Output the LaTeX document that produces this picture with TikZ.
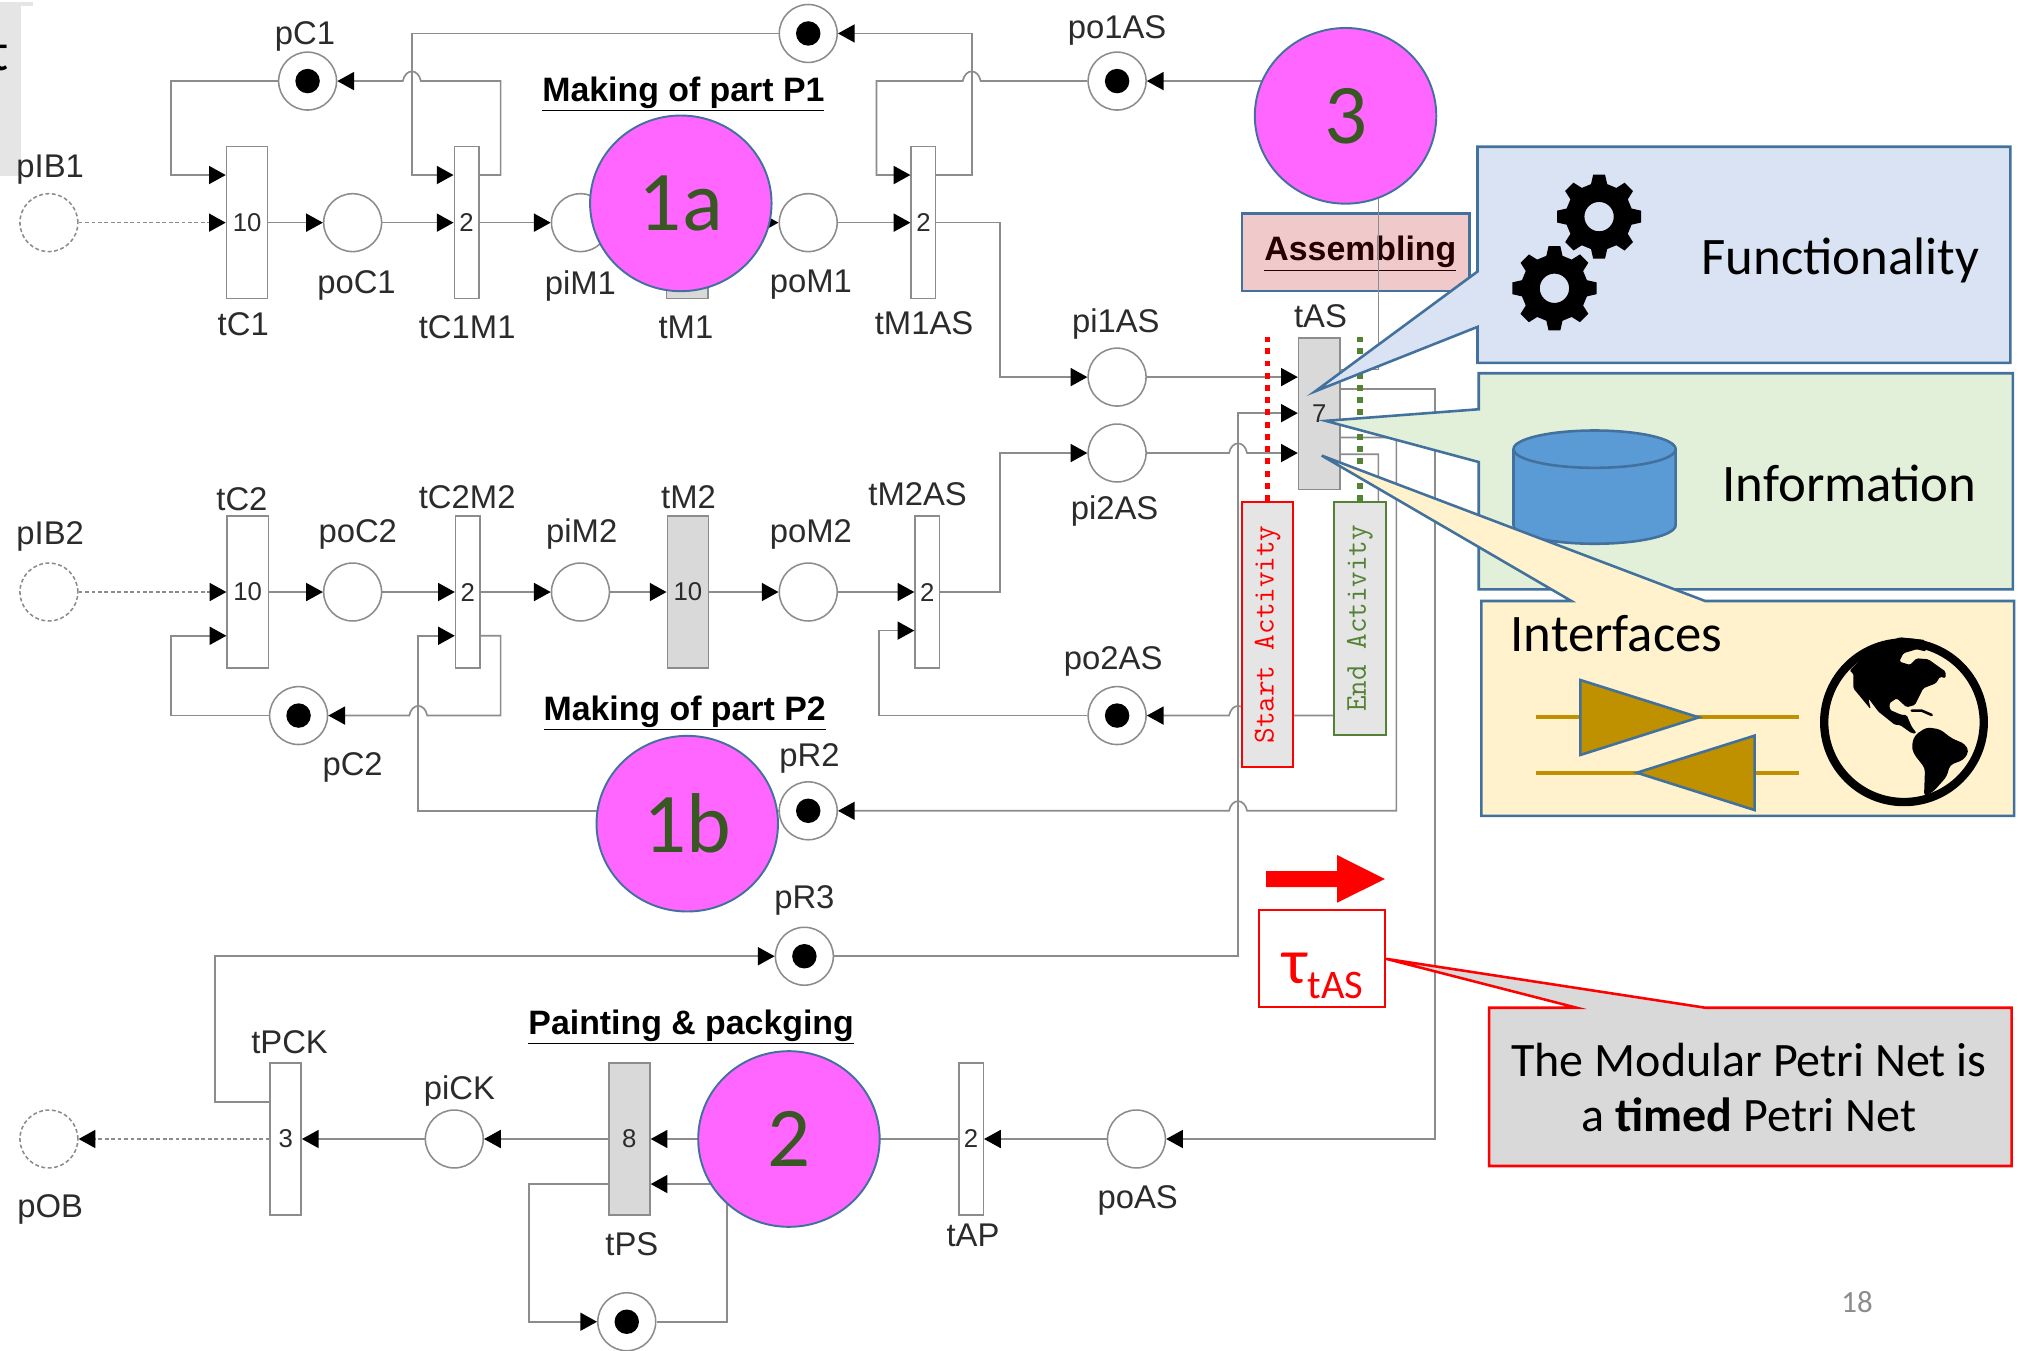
\documentclass[tikz,border=0pt]{standalone}
\usepackage{fontspec}
\setmainfont{Liberation Sans}
\newfontfamily\calibrif{Carlito}
\usetikzlibrary{arrows.meta,calc,shapes.geometric}
\newcommand\fsz[1]{\fontsize{#1}{#1}\selectfont}
\newcommand\hopleft[2]{-- ({#1+7},#2) .. controls ({#1+5},{#2-10}) and ({#1-5},{#2-10}) .. ({#1-7},#2)}
\newcommand\hopright[2]{-- ({#1-7},#2) .. controls ({#1-5},{#2-10}) and ({#1+5},{#2-10}) .. ({#1+7},#2)}
\definecolor{netgray}{HTML}{8C8C8C}
\definecolor{labelc}{HTML}{2B2B2B}
\definecolor{edgeblue}{HTML}{41719C}
\definecolor{pinkf}{HTML}{FF66FF}
\definecolor{numgreen}{HTML}{385723}
\definecolor{funcf}{HTML}{DAE3F3}
\definecolor{infof}{HTML}{E2F0D9}
\definecolor{intf}{HTML}{FFF2CC}
\definecolor{gold}{HTML}{BF9000}
\definecolor{acgreen}{HTML}{548235}
\definecolor{assemf}{HTML}{F0C9CB}
\definecolor{cylf}{HTML}{5B9BD5}
\tikzset{
  x=1pt,y=-1pt,
  place/.style={circle,draw=netgray,line width=1.2pt,fill=white,minimum size=45pt,inner sep=0pt},
  ghostplace/.style={place,densely dashed},
  tokened/.style={path picture={\fill[black] (path picture bounding box.center) circle (9.5pt);}},
  trans/.style={rectangle,draw=netgray,line width=1.2pt,fill=white,minimum height=118pt,inner sep=0pt,text=labelc,font=\fsz{20}},
  graytrans/.style={trans,fill=black!15},
  lab/.style={text=labelc,font=\fsz{25.5},inner sep=0pt},
  plab/.style={lab,yshift=-2pt},
  heading/.style={text=black,font=\fsz{26.3}\bfseries,inner sep=0pt,yshift=-2pt},
  netline/.style={draw=netgray,line width=1.3pt},
  netarrow/.style={netline,-{Triangle[length=13pt,width=14pt,black]}},
  dashnet/.style={netarrow,densely dashed},
  pinkball/.style={ellipse,draw=edgeblue,line width=1.5pt,fill=pinkf,minimum width=141pt,minimum height=136.5pt,inner sep=0pt,text=numgreen,font=\calibrif\fsz{66}},
  callout/.style={draw=edgeblue,line width=2pt,line join=miter},
  ctext/.style={text=black,font=\calibrif\fsz{41},inner sep=0pt},
  activity/.style={rotate=90,line width=1.5pt,fill=black!10,minimum height=40pt,inner sep=0pt,font=\ttfamily\fsz{23.5}},
  dotline/.style={line width=4pt,dash pattern=on 4.6pt off 4.9pt},
  gearshape/.style={fill=black,even odd rule}
}
\newcommand\gearat[2]{%
  \fill[gearshape,shift={(#1,#2)}] (-14:26)
    foreach \a in {0,45,...,315}{ -- ({\a-14}:26) -- ({\a-8}:33) -- ({\a+8}:33) -- ({\a+14}:26)} -- cycle
    (0,0) circle (11.4);}
\begin{document}
\begin{tikzpicture}
\useasboundingbox (0,0) rectangle (1568,1049);
\fill[white] (0,0) rectangle (1568,1049);
% slide remainder, top left
\fill[black!10] (0,1.5) rectangle (26,4.5);
\fill[black!10] (0,4.5) rectangle (16.5,137);
\node[anchor=base east,inner sep=0pt,font=\calibrif\fsz{42},text=black] (cutT) at (7,55) {t};
% assembling box under the net
\node[rectangle,draw=edgeblue,line width=2pt,fill=assemf,minimum width=177pt,minimum height=60pt] (asmBox) at (1053.5,196) {};
% places
\node[ghostplace] (pIB1) at (38,173) {};
\node[ghostplace] (pIB2) at (38,460) {};
\node[ghostplace] (pOB) at (38,885) {};
\node[place,tokened] (pC1) at (239,63) {};
\node[place,tokened] (pTop) at (628,26) {};
\node[place,tokened] (po1AS) at (868,63) {};
\node[place] (poC1) at (274,173) {};
\node[place] (piM1) at (451,173) {};
\node[place] (poM1) at (628,173) {};
\node[place] (pi1AS) at (868,293) {};
\node[place] (pi2AS) at (868,352) {};
\node[place] (poC2) at (274,460) {};
\node[place] (piM2) at (451,460) {};
\node[place] (poM2) at (628,460) {};
\node[place,tokened] (po2AS) at (868,556) {};
\node[place,tokened] (pC2) at (232,556) {};
\node[place,tokened] (pR2) at (628,630) {};
\node[place,tokened] (pR3) at (625,743) {};
\node[place] (piCK) at (353,885) {};
\node[place] (poAS) at (883,885) {};
\node[place,tokened] (pLoop) at (487,1027) {};
% transitions
\node[trans,minimum width=32pt] (tC1) at (192,173) {10};
\node[trans,minimum width=19pt] (tC1M1) at (362.5,173) {2};
\node[graytrans,minimum width=32pt] (tM1) at (534,173) {};
\node[trans,minimum width=19pt] (tM1AS) at (717.5,173) {2};
\node[trans,minimum width=32pt] (tC2) at (192.5,460) {10};
\node[trans,minimum width=19pt] (tC2M2) at (363.5,460) {2};
\node[graytrans,minimum width=32pt] (tM2) at (534.5,460) {10};
\node[trans,minimum width=19pt] (tM2AS) at (720.5,460) {2};
\node[graytrans,minimum width=32pt] (tAS) at (1025,321.5) {7};
\node[trans,minimum width=24pt] (tPCK) at (222,885) {3};
\node[graytrans,minimum width=32pt] (tPS) at (489,885) {8};
\node[trans,minimum width=19pt] (tAP) at (754.5,885) {2};
% labels
\node[plab] (lpC1) at (237,26) {pC1};
\node[plab] (lpIB1) at (39,130) {pIB1};
\node[plab] (lpoC1) at (277,220) {poC1};
\node[plab] (lpiM1) at (451,220) {piM1};
\node[plab] (lpoM1) at (630,219) {poM1};
\node[lab] (ltC1) at (189,252) {tC1};
\node[lab] (ltC1M1) at (363,254) {tC1M1};
\node[lab] (ltM1) at (533,254) {tM1};
\node[lab] (ltM1AS) at (718,251) {tM1AS};
\node[plab] (lpo1AS) at (868,22) {po1AS};
\node[plab] (lpi1AS) at (867,250) {pi1AS};
\node[plab] (lpi2AS) at (866,395) {pi2AS};
\node[lab] (ltAS) at (1026,246) {tAS};
\node[lab] (ltC2) at (188,388) {tC2};
\node[plab] (lpoC2) at (278,413) {poC2};
\node[lab] (ltC2M2) at (363,386) {tC2M2};
\node[plab] (lpiM2) at (452,413) {piM2};
\node[lab] (ltM2) at (535,386) {tM2};
\node[plab] (lpoM2) at (630,413) {poM2};
\node[lab] (ltM2AS) at (713,384) {tM2AS};
\node[plab] (lpIB2) at (39,415) {pIB2};
\node[plab] (lpo2AS) at (865,512) {po2AS};
\node[plab] (lpC2) at (274,594) {pC2};
\node[plab] (lpR2) at (629,587) {pR2};
\node[plab] (lpR3) at (625,698) {pR3};
\node[lab] (ltPCK) at (225,810) {tPCK};
\node[plab] (lpiCK) at (357,846) {piCK};
\node[plab] (lpOB) at (39,938) {pOB};
\node[lab] (ltPS) at (491,967) {tPS};
\node[lab] (ltAP) at (756,960) {tAP};
\node[plab] (lpoAS) at (884,931) {poAS};
\node[heading] (hP1) at (531,71) {\underline{Making of part P1}};
\node[heading] (hP2) at (532,552) {\underline{Making of part P2}};
\node[heading] (hPP) at (537,796) {\underline{Painting \& packging}};
\node[heading,text=black!85!red] (hAS) at (1057,195) {\underline{Assembling}};
% net, row 1
\draw[dashnet] (pIB1.east) -- (tC1.west);
\draw[netarrow] (tC1.east) -- (poC1.west);
\draw[netarrow] (poC1.east) -- (tC1M1.west);
\draw[netarrow] (tC1M1.east) -- (piM1.west);
\draw[netarrow] (piM1.east) -- (tM1.west);
\draw[netarrow] (tM1.east) -- (poM1.west);
\draw[netarrow] (poM1.east) -- (tM1AS.west);
\draw[netarrow] (pC1.west) -- (133,63) -- (133,136) -- (tC1.west |- 0,136);
\draw[netarrow] (tC1M1.east |- 0,136) -- (389,136) -- (389,63) \hopleft{320}{63} -- (pC1.east);
\draw[netarrow] (pTop.west) -- (320,26) -- (320,136) -- (tC1M1.west |- 0,136);
\draw[netarrow] (po1AS.west) \hopleft{755}{63} -- (681,63) -- (681,136) -- (tM1AS.west |- 0,136);
\draw[netarrow] (tM1AS.east |- 0,136) -- (755,136) -- (755,26) -- (pTop.east);
\draw[netarrow] (tM1AS.east) -- (777,173) -- (777,293) -- (pi1AS.west);
% net, assembling
\draw[netarrow] (pi1AS.east) -- (tAS.west |- pi1AS);
\draw[netarrow] (pi2AS.east) \hopright{962}{352} -- (tAS.west |- pi2AS);
\draw[netarrow] (pR3.east) -- (962,743) -- (962,321) -- (tAS.west |- 0,321);
\draw[netarrow] (tAS.east |- 0,287) -- (1071,287) -- (1071,63) -- (po1AS.east);
\draw[netarrow] (tAS.east |- 0,302) -- (1115,302) -- (1115,885) -- (poAS.east);
\draw[netarrow] (tAS.east |- 0,340) -- (1085,340) -- (1085,630) \hopleft{962}{630} -- (pR2.east);
\draw[netarrow] (tAS.east |- 0,353) -- (1071,353) -- (1071,556) \hopleft{962}{556} -- (po2AS.east);
% net, row 2
\draw[dashnet] (pIB2.east) -- (tC2.west);
\draw[netarrow] (tC2.east) -- (poC2.west);
\draw[netarrow] (poC2.east) -- (tC2M2.west);
\draw[netarrow] (tC2M2.east) -- (piM2.west);
\draw[netarrow] (piM2.east) -- (tM2.west);
\draw[netarrow] (tM2.east) -- (poM2.west);
\draw[netarrow] (poM2.east) -- (tM2AS.west);
\draw[netarrow] (tM2AS.east) -- (777,460) -- (777,352) -- (pi2AS.west);
\draw[netarrow] (pC2.west) -- (133,556) -- (133,494) -- (tC2.west |- 0,494);
\draw[netarrow] (tC2M2.east |- 0,494) -- (389,494) -- (389,556) \hopleft{325}{556} -- (pC2.east);
\draw[netarrow] (pR2.west) -- (325,630) -- (325,494) -- (tC2M2.west |- 0,494);
\draw[netarrow] (po2AS.west) -- (683,556) -- (683,490) -- (tM2AS.west |- 0,490);
% net, bottom row
\draw[netarrow] (tPCK.west |- 0,856) -- (167,856) -- (167,743) -- (pR3.west);
\draw[dashnet] (tPCK.west) -- (pOB.east);
\draw[netarrow] (piCK.west) -- (tPCK.east);
\draw[netarrow] (tPS.west) -- (piCK.east);
\draw[netarrow] (tAP.west) -- (tPS.east);
\draw[netarrow] (poAS.west) -- (tAP.east);
\draw[netarrow] (tPS.west |- 0,920) -- (411,920) -- (411,1027) -- (pLoop.west);
\draw[netarrow] (pLoop.east) -- (565,1027) -- (565,920) -- (tPS.east |- 0,920);
% activity markers
\node[activity,draw=red,text=red,minimum width=206pt] (startAct) at (985,493) {Start Activity};
\node[activity,draw=acgreen,text=acgreen,minimum width=181pt] (endAct) at (1056.7,480.5) {End Activity};
\draw[dotline,red] (startAct.east) -- (startAct.east |- tAS.north);
\draw[dotline,acgreen] (endAct.east) -- (endAct.east |- tAS.north);
% functionality callout
\draw[callout,fill=funcf] (1148,114) -- (1562,114) -- (1562,282) -- (1148,282) -- (1148,254) -- (1022,304) -- (1148,211) -- cycle;
\gearat{1242.5}{168.3}
\gearat{1207.8}{224}
\node[ctext] (tFunc) at (1430,202) {Functionality};
% information callout
\draw[callout,fill=infof] (1149,290) -- (1564,290) -- (1564,458) -- (1149,458) -- (1149,359) -- (1030,327) -- (1149,318) -- cycle;
\draw[edgeblue,line width=2pt,fill=cylf] (1176,349) -- (1176,408) arc[start angle=180,end angle=0,x radius=63,y radius=14.5] -- (1302,349);
\draw[edgeblue,line width=2pt,fill=cylf] (1239,349) ellipse[x radius=63,y radius=14.5];
\node[ctext] (tInfo) at (1437,376) {Information};
% interfaces callout
\draw[callout,fill=intf] (1151,467) -- (1221,467) -- (1027,354) -- (1325,467) -- (1565,467) -- (1565,634) -- (1151,634) -- cycle;
\node[ctext] (tInt) at (1256,492) {Interfaces};
\draw[gold,line width=3pt] (1193.5,557.4) -- (1398,557.4);
\draw[gold,line width=3pt] (1193.5,600.4) -- (1398,600.4);
\draw[edgeblue,line width=2pt,fill=gold] (1228,528.4) -- (1320,557.4) -- (1228,586.6) -- cycle;
\draw[edgeblue,line width=2pt,fill=gold] (1363.3,571.6) -- (1271.8,600.4) -- (1363.3,629.4) -- cycle;
% globe
\draw[black,line width=6.5pt] (1479.4,561.2) circle (62);
\begin{scope}[shift={(1398.6,481.7)},scale=0.259]
\fill[black,rounded corners=1.2pt] (148,153) -- (190,110) -- (235,75) -- (300,52) -- (375,60) -- (378,95) -- (350,88) -- (310,100) -- (298,125) -- (330,135) -- (350,115) -- (385,118) -- (437,155) -- (437,175) -- (420,170) -- (408,190) -- (370,205) -- (345,255) -- (320,262) -- (290,235) -- (268,250) -- (270,270) -- (305,285) -- (320,285) -- (335,320) -- (350,340) -- (335,340) -- (300,315) -- (285,315) -- (235,275) -- (205,235) -- (212,268) -- (160,205) -- (160,160) -- cycle;
\fill[black,rounded corners=3pt] (335,375) -- (345,345) -- (380,322) -- (420,328) -- (455,355) -- (495,372) -- (507,395) -- (490,420) -- (450,435) -- (440,470) -- (400,515) -- (372,530) -- (375,445) -- (340,400) -- cycle;
\draw[black,line width=2pt,line cap=round] (335,272) -- (365,272) -- (395,285);
\end{scope}
% pink module markers
\node[pinkball] (m1a) at (529,158) {1a};
\node[pinkball] (m1b) at (534,640) {1b};
\node[pinkball] (m2) at (613,885) {2};
\node[pinkball] (m3) at (1045.5,90) {3};
% timing
\fill[red] (983.7,676.8) -- (1039,676.8) -- (1039,664.4) -- (1076,683) -- (1039,701.4) -- (1039,689.2) -- (983.7,689.2) -- cycle;
\draw[red,line width=2pt,fill=black!15,line join=miter] (1157,783) -- (1225,783) -- (1077,745) -- (1325,783) -- (1563,783) -- (1563,906) -- (1157,906) -- cycle;
\node[rectangle,draw=red,line width=1.5pt,fill=white,minimum width=98pt,minimum height=75.5pt] (tauBox) at (1027.5,745) {};
\node[anchor=base,inner sep=0pt,text=red,font=\calibrif\fsz{50}] (tauT) at (1028,764) {τ\raisebox{-11.5pt}{\fsz{31.5}tAS}};
\node[text=black,font=\calibrif\fsz{37.3},align=center,inner sep=0pt] (tMod) at (1359,845) {The Modular Petri Net is\\[6pt]a \textbf{timed} Petri Net};
\node[text=black!45,font=\calibrif\fsz{24},inner sep=0pt] (pageNo) at (1443,1012) {18};
\end{tikzpicture}
\end{document}
